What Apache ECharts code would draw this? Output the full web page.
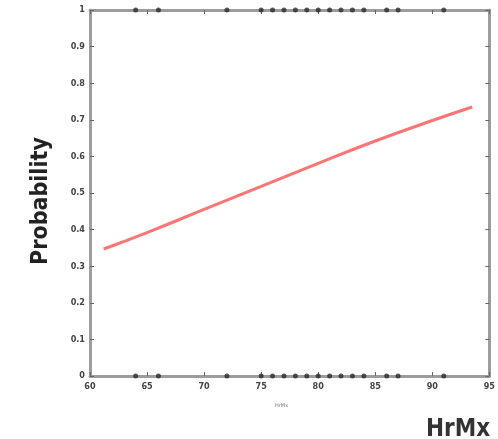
<!DOCTYPE html>
<html>
<head>
<meta charset="utf-8">
<script src="https://cdn.jsdelivr.net/npm/echarts@6/dist/echarts.min.js"></script>
<style>
  html, body { margin: 0; padding: 0; background: #fff; }
  #chart { width: 498px; height: 439px; }
</style>
</head>
<body>
<div id="chart"></div>
<script>
// Fitted probability curve (HrMx vs. probability)
var curveX = [61.2, 65, 70, 75, 80, 85, 90, 93.5];
var curveP = [0.347, 0.392, 0.455, 0.518, 0.581, 0.642, 0.698, 0.735];

// Observed cases: outcome 1 (top rug) and outcome 0 (bottom rug)
var hitsX = [64, 66, 72, 75, 76, 77, 78, 79, 80, 81, 82, 83, 84, 86, 87, 91];
var missX = [64, 66, 72, 75, 76, 77, 78, 79, 80, 81, 82, 83, 84, 86, 87, 91];

var xTicks = [60, 65, 70, 75, 80, 85, 90, 95];
var yTicks = [0, 0.1, 0.2, 0.3, 0.4, 0.5, 0.6, 0.7, 0.8, 0.9, 1];

var axisGray = '#9c9c9c';
var labelGray = '#444';

function pairs(xs, ys) {
  return xs.map(function (x, i) { return [x, Array.isArray(ys) ? ys[i] : ys]; });
}

var chart = echarts.init(document.getElementById('chart'), null, { renderer: 'canvas' });

var baseAxisLine = { show: true, onZero: false, lineStyle: { color: axisGray, width: 3 } };
var baseTick = { show: true, inside: true, length: 4, lineStyle: { color: '#666', width: 1 } };

chart.setOption({
  animation: false,
  backgroundColor: '#fff',
  grid: { left: 90, right: 8, top: 10, bottom: 63 },
  xAxis: [
    {
      type: 'value', min: 60, max: 95, interval: 5, position: 'bottom',
      axisLine: baseAxisLine, axisTick: baseTick, splitLine: { show: false },
      axisLabel: {
        color: labelGray, fontSize: 9, fontFamily: 'DejaVu Sans Condensed', fontWeight: 'bold', margin: 6,
        formatter: function (v) { return xTicks.indexOf(v) >= 0 ? String(v) : ''; }
      }
    },
    {
      type: 'value', min: 60, max: 95, interval: 5, position: 'top',
      axisLine: baseAxisLine, axisTick: baseTick, axisLabel: { show: false }, splitLine: { show: false }
    }
  ],
  yAxis: [
    {
      type: 'value', min: 0, max: 1, interval: 0.1, position: 'left',
      axisLine: baseAxisLine, axisTick: baseTick, splitLine: { show: false },
      axisLabel: {
        color: labelGray, fontSize: 9, fontFamily: 'DejaVu Sans Condensed', fontWeight: 'bold', margin: 5,
        formatter: function (v) {
          var r = Math.round(v * 10) / 10;
          return yTicks.indexOf(r) >= 0 ? String(r) : '';
        }
      }
    },
    {
      type: 'value', min: 0, max: 1, interval: 0.1, position: 'right',
      axisLine: baseAxisLine, axisTick: baseTick, axisLabel: { show: false }, splitLine: { show: false }
    }
  ],
  series: [
    {
      type: 'line', smooth: true, showSymbol: false, symbol: 'none',
      data: pairs(curveX, curveP),
      lineStyle: { color: '#ff7474', width: 3 },
      z: 3
    },
    {
      type: 'scatter', data: pairs(hitsX, 1),
      symbol: 'circle', symbolSize: 5,
      itemStyle: { color: '#2a2a2a' }, z: 5
    },
    {
      type: 'scatter', data: pairs(missX, 0),
      symbol: 'circle', symbolSize: 5,
      itemStyle: { color: '#2a2a2a' }, z: 5
    }
  ],
  graphic: [
    {
      type: 'text', x: 41, y: 201,
      rotation: Math.PI / 2,
      style: {
        text: 'Probability', fill: '#222',
        font: 'bold 23px "DejaVu Sans Condensed"',
        align: 'center', verticalAlign: 'middle'
      }
    },
    {
      type: 'text', x: 458, y: 430,
      style: {
        text: 'HrMx', fill: '#333',
        font: 'bold 24px "DejaVu Sans Condensed"',
        align: 'center', verticalAlign: 'middle'
      }
    },
    {
      type: 'text', x: 275, y: 403,
      style: { text: 'HrMx', fill: '#777', font: '5px "DejaVu Sans"' }
    }
  ]
});
</script>
</body>
</html>
